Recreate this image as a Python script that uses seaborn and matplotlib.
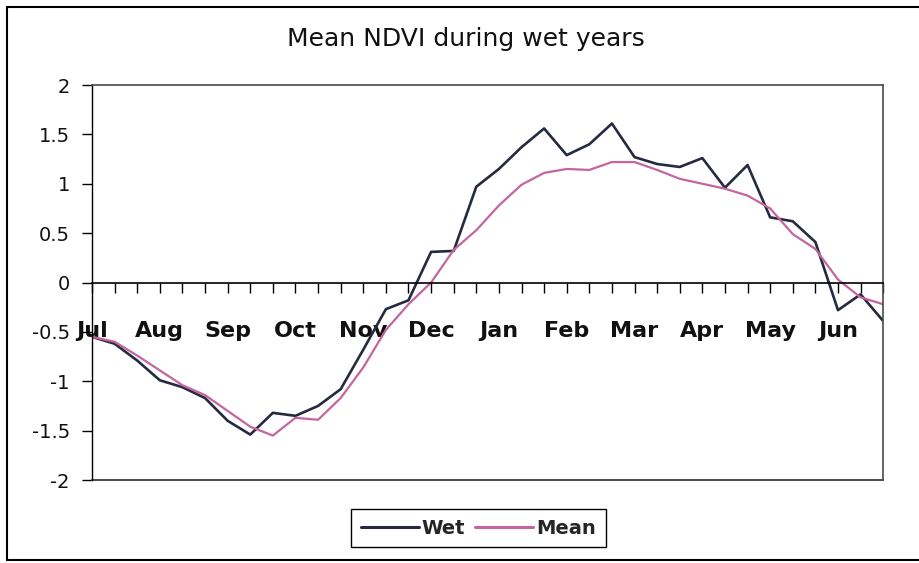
import numpy as np
import pandas as pd
import seaborn as sns
import matplotlib.pyplot as plt
from matplotlib.lines import Line2D

# Category labels (one label every third dekad)
months = ["Jul", "Aug", "Sep", "Oct", "Nov", "Dec",
          "Jan", "Feb", "Mar", "Apr", "May", "Jun"]

# Dekadal NDVI anomalies (36 points, Jul..Jun)
wet = [-0.55, -0.62, -0.79, -0.99, -1.06, -1.17, -1.40, -1.54, -1.32, -1.35,
       -1.25, -1.08, -0.68, -0.27, -0.18, 0.31, 0.32, 0.97, 1.15, 1.37,
       1.56, 1.29, 1.40, 1.61, 1.27, 1.20, 1.17, 1.26, 0.96, 1.19,
       0.66, 0.62, 0.41, -0.28, -0.12, -0.39]
mean = [-0.55, -0.60, -0.74, -0.89, -1.04, -1.14, -1.30, -1.46, -1.55, -1.37,
        -1.39, -1.17, -0.86, -0.48, -0.22, 0.00, 0.33, 0.53, 0.78, 0.99,
        1.11, 1.15, 1.14, 1.22, 1.22, 1.14, 1.05, 1.00, 0.95, 0.88,
        0.75, 0.49, 0.34, 0.03, -0.15, -0.22]

yticks = [-2, -1.5, -1, -0.5, 0, 0.5, 1, 1.5, 2]

wet_color = "#262a40"
mean_color = "#c4659f"

sns.set_theme(style="white")
plt.rcParams["font.family"] = ["DejaVu Sans"]

# Build long dataframe for seaborn
n = len(wet)
df = pd.DataFrame({
    "idx": list(range(n)) * 2,
    "value": wet + mean,
    "series": ["Wet"] * n + ["Mean"] * n,
})

fig = plt.figure(figsize=(9.2, 5.63), dpi=100)
ax = fig.add_axes([0.1, 0.1474, 0.86, 0.7016])

sns.lineplot(data=df, x="idx", y="value", hue="series",
             palette={"Wet": wet_color, "Mean": mean_color},
             hue_order=["Wet", "Mean"], ax=ax, legend=False)
for line, lw in zip(ax.lines, [1.9, 1.6]):
    line.set_linewidth(lw)

ax.set_xlim(0, n - 1)
ax.set_ylim(-2, 2)
ax.set_xlabel("")
ax.set_ylabel("")

# category axis crosses at zero
ax.spines["bottom"].set_position(("data", 0))
ax.spines["bottom"].set_color("black")
ax.spines["bottom"].set_linewidth(1.2)
ax.spines["left"].set_color("black")
ax.spines["left"].set_linewidth(1.0)
for s in ["top", "right"]:
    ax.spines[s].set_color("#4a4a4a")
    ax.spines[s].set_linewidth(1.2)
ax.axhline(-2, color="#4a4a4a", lw=1.4, clip_on=False)

ax.set_xticks(range(n))
ax.set_xticklabels([months[i // 3] if i % 3 == 0 else "" for i in range(n)],
                   fontsize=16, fontweight="bold", color="#111111")
ax.tick_params(axis="x", direction="out", length=7, width=1, pad=21,
               bottom=True, color="black")

ax.set_yticks(yticks)
ax.set_yticklabels([f"{v:g}" for v in yticks], fontsize=14, color="#111111")
ax.tick_params(axis="y", direction="out", length=7, width=1, pad=9,
               left=True, color="black")

fig.text(0.5065, 0.93, "Mean NDVI during wet years", ha="center", va="center",
         fontsize=18, color="#111111")

handles = [Line2D([], [], color=wet_color, lw=2.2),
           Line2D([], [], color=mean_color, lw=2.2)]
leg = fig.legend(handles, ["Wet", "Mean"], loc="center",
                 bbox_to_anchor=(0.52, 0.062), ncol=2, frameon=True,
                 fancybox=False, framealpha=1, edgecolor="black",
                 handlelength=3.0, handletextpad=0.15, columnspacing=0.5,
                 borderpad=0.5, prop={"size": 14, "weight": "bold"})
leg.get_frame().set_linewidth(1.0)

# outer chart border
fig.add_artist(Line2D([0.008, 0.008], [0.005, 0.988], color="black", lw=1.5))
fig.add_artist(Line2D([0.008, 1.0], [0.988, 0.988], color="black", lw=1.5))
fig.add_artist(Line2D([0.008, 1.0], [0.005, 0.005], color="black", lw=1.5))

plt.savefig("out.png", dpi=100)
